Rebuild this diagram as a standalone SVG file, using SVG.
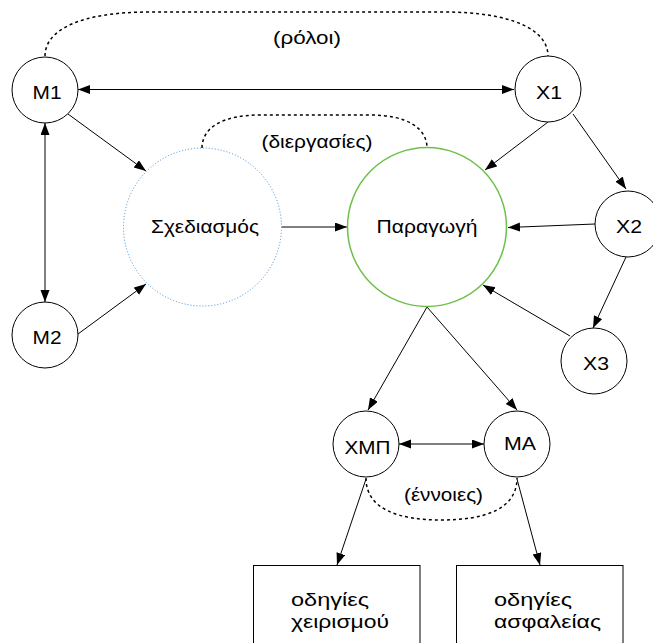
<svg xmlns="http://www.w3.org/2000/svg" width="653" height="643" viewBox="0 0 653 643">
<style>
.n{fill:#fff;stroke:#000;stroke-width:1}
.t{font-family:"Liberation Sans",Arial,sans-serif;font-size:18.5px;fill:#000}
.m{text-anchor:middle}
.c{fill:none;stroke:#000;stroke-width:1}
.a{marker-end:url(#ah)}
.b{marker-start:url(#ah);marker-end:url(#ah)}
.d{fill:none;stroke:#000;stroke-width:1.5;stroke-dasharray:3 3}
</style>
<defs>
<marker id="ah" markerUnits="userSpaceOnUse" markerWidth="13" markerHeight="10" refX="12" refY="4.5" orient="auto-start-reverse">
<path d="M0,0 L12,4.5 L0,9 z" fill="#000"/>
</marker>
</defs>
<rect width="653" height="643" fill="#fff"/>
<g id="connectors">
<path class="c b" d="M78,89.5 L514,89.5"/>
<path class="c b" d="M45,123 L45,302"/>
<path class="c a" d="M68,114 L146,171"/>
<path class="c a" d="M78,334 L146,284"/>
<path class="c a" d="M282,227 L347,227"/>
<path class="c a" d="M548,122 L485,170"/>
<path class="c a" d="M573,114 L626,189"/>
<path class="c a" d="M595,224 L508,227.5"/>
<path class="c a" d="M626,257 L593,328"/>
<path class="c a" d="M570,336 L483,285"/>
<path class="c a" d="M427,307 L368,410"/>
<path class="c a" d="M427,307 L517,410"/>
<path class="c b" d="M399,444 L484,444"/>
<path class="c a" d="M366,479 L337,565"/>
<path class="c a" d="M517,479 L540,565"/>
<path class="d" d="M45,56 C45,30 80,12 150,12 L443,12 C513,12 548,30 548,56"/>
<path class="d" d="M202,148 C202,128 222,115 260,115 L370,115 C407,115 427,128 427,148"/>
<path class="d" d="M366,478 C366,510 400,520 441.5,520 C483,520 517,510 517,478"/>
</g>
<g id="M1"><circle class="n" cx="45" cy="90" r="33"/><text class="t m" x="47" y="99" textLength="29" lengthAdjust="spacingAndGlyphs">M1</text></g>
<g id="M2"><circle class="n" cx="45" cy="335" r="33"/><text class="t m" x="47" y="344" textLength="29" lengthAdjust="spacingAndGlyphs">M2</text></g>
<g id="X1"><circle class="n" cx="548" cy="89" r="33"/><text class="t m" x="549" y="99" textLength="26" lengthAdjust="spacingAndGlyphs">X1</text></g>
<g id="X2"><circle class="n" cx="628" cy="224" r="33"/><text class="t m" x="629" y="233" textLength="26" lengthAdjust="spacingAndGlyphs">X2</text></g>
<g id="X3"><circle class="n" cx="594" cy="361" r="33"/><text class="t m" x="596" y="370" textLength="26" lengthAdjust="spacingAndGlyphs">X3</text></g>
<g id="Sxediasmos"><circle cx="202.5" cy="227" r="79" fill="#fff" stroke="#3b8ed8" stroke-width="1" stroke-dasharray="1 2"/><text class="t m" x="205" y="233" textLength="108" lengthAdjust="spacingAndGlyphs">Σχεδιασμός</text></g>
<g id="Paragogi"><circle cx="427" cy="227" r="79.5" fill="#fff" stroke="#6cc04a" stroke-width="1.5"/><text class="t m" x="427" y="233" textLength="101" lengthAdjust="spacingAndGlyphs">Παραγωγή</text></g>
<g id="XMP"><circle class="n" cx="366" cy="444" r="33"/><text class="t m" x="367.5" y="454" textLength="46" lengthAdjust="spacingAndGlyphs">ΧΜΠ</text></g>
<g id="MA"><circle class="n" cx="517" cy="444" r="33"/><text class="t m" x="520" y="450" textLength="32" lengthAdjust="spacingAndGlyphs">ΜΑ</text></g>
<g id="box1"><rect class="n" x="253.5" y="565.5" width="166.5" height="90"/><text class="t" x="291" y="606" textLength="78" lengthAdjust="spacingAndGlyphs">οδηγίες</text><text class="t" x="291" y="628" textLength="98" lengthAdjust="spacingAndGlyphs">χειρισμού</text></g>
<g id="box2"><rect class="n" x="456.5" y="565.5" width="166.5" height="90"/><text class="t" x="494" y="606" textLength="78" lengthAdjust="spacingAndGlyphs">οδηγίες</text><text class="t" x="494" y="628" textLength="107" lengthAdjust="spacingAndGlyphs">ασφαλείας</text></g>
<g id="labels">
<text class="t m" x="307" y="44" textLength="68" lengthAdjust="spacingAndGlyphs">(ρόλοι)</text>
<text class="t m" x="317" y="148" textLength="111" lengthAdjust="spacingAndGlyphs">(διεργασίες)</text>
<text class="t m" x="443.5" y="501" textLength="79" lengthAdjust="spacingAndGlyphs">(έννοιες)</text>
</g>
</svg>
